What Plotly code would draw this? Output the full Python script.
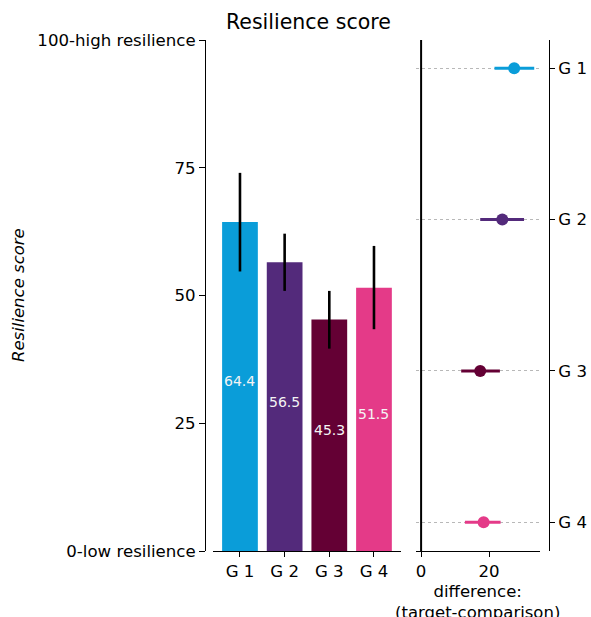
import plotly.graph_objects as go

groups = ["G 1", "G 2", "G 3", "G 4"]
scores = [64.4, 56.5, 45.3, 51.5]
score_lo = [54.7, 50.9, 39.6, 43.4]
score_hi = [74.0, 62.1, 50.9, 59.7]
diff = [27.4, 23.9, 17.4, 18.4]
diff_lo = [21.6, 17.4, 11.8, 12.9]
diff_hi = [33.3, 30.3, 23.2, 23.4]
colors = ["#0a9dd9", "#532a7b", "#640034", "#e43a88"]
y_ticks = [0, 25, 50, 75, 100]
y_ticktext = ["0-low resilience", "25", "50", "75", "100-high resilience"]
diff_ticks = [0, 20]

W, H = 591, 617
def px(x): return x / W
def py(y): return 1 - y / H

FONT = "DejaVu Sans"
fig = go.Figure()
idx = list(range(len(groups)))

fig.add_trace(go.Bar(
    x=idx, y=scores, width=0.8, marker=dict(color=colors, line=dict(width=0)),
    error_y=dict(type="data", symmetric=False,
                 array=[h - s for h, s in zip(score_hi, scores)],
                 arrayminus=[s - l for s, l in zip(scores, score_lo)],
                 color="black", thickness=2.6, width=0),
    xaxis="x", yaxis="y", hoverinfo="skip"))

for i in idx:
    fig.add_trace(go.Scatter(
        x=[diff[i]], y=[i], mode="markers",
        marker=dict(color=colors[i], size=12),
        error_x=dict(type="data", symmetric=False,
                     array=[diff_hi[i] - diff[i]],
                     arrayminus=[diff[i] - diff_lo[i]],
                     color=colors[i], thickness=3, width=0),
        xaxis="x2", yaxis="y2", hoverinfo="skip"))

annotations = []
for i, v in enumerate(scores):
    annotations.append(dict(x=i, y=v / 2, xref="x", yref="y", text=f"{v:.1f}",
                            showarrow=False, yanchor="middle", yshift=5,
                            font=dict(family=FONT, size=14, color="#f4f4f4")))
annotations.append(dict(x=px(308), y=py(22), xref="paper", yref="paper",
                        text="Resilience score", showarrow=False,
                        xanchor="center", yanchor="middle",
                        font=dict(family=FONT, size=20.5, color="black")))
annotations.append(dict(x=px(18), y=py(295), xref="paper", yref="paper",
                        text="<i>Resilience score</i>", showarrow=False, textangle=-90,
                        xanchor="center", yanchor="middle",
                        font=dict(family=FONT, size=16.5, color="black")))
annotations.append(dict(x=px(478), y=py(602), xref="paper", yref="paper",
                        text="difference:<br>(target-comparison)", showarrow=False,
                        xanchor="center", yanchor="middle",
                        font=dict(family=FONT, size=16.5, color="black")))

tickfont = dict(family=FONT, size=16.6, color="black")
fig.update_layout(
    width=W, height=H, margin=dict(l=0, r=0, t=0, b=0, autoexpand=False),
    paper_bgcolor="white", plot_bgcolor="white", showlegend=False,
    xaxis=dict(domain=[px(213), px(401)], anchor="y", range=[-0.604, 3.605],
               tickvals=idx, ticktext=groups, ticks="outside", ticklen=5,
               tickcolor="black", showline=True, linecolor="black", linewidth=1,
               showgrid=False, zeroline=False, tickfont=tickfont, fixedrange=True),
    yaxis=dict(domain=[py(551), py(40)], anchor="free", position=px(205),
               range=[0, 100], tickvals=y_ticks, ticktext=y_ticktext,
               ticks="outside", ticklen=6, tickcolor="black", showline=True,
               linecolor="black", linewidth=1, showgrid=False, zeroline=False,
               tickfont=tickfont),
    xaxis2=dict(domain=[px(416), px(540)], anchor="y2", range=[-1.5, 35],
                tickvals=diff_ticks, ticks="outside", ticklen=5, tickcolor="black",
                showline=True, linecolor="black", linewidth=1, showgrid=False,
                zeroline=False, tickfont=tickfont),
    yaxis2=dict(domain=[py(551), py(40)], anchor="free", position=px(549),
                side="right", range=[3.19, -0.187], tickvals=idx, ticktext=groups,
                ticks="outside", ticklen=5, tickcolor="black", showline=True,
                linecolor="black", linewidth=1, showgrid=True, gridcolor="#b8b8b8",
                griddash="dot", gridwidth=1, zeroline=False, tickfont=tickfont),
    annotations=annotations,
    shapes=[dict(type="line", xref="x2", yref="y2 domain", x0=0, x1=0, y0=0, y1=1,
                 line=dict(color="black", width=2), layer="above")],
)

fig.write_html("out.html", config={"displayModeBar": False},
               post_script="document.body.style.margin='0';document.body.style.overflow='hidden';")
